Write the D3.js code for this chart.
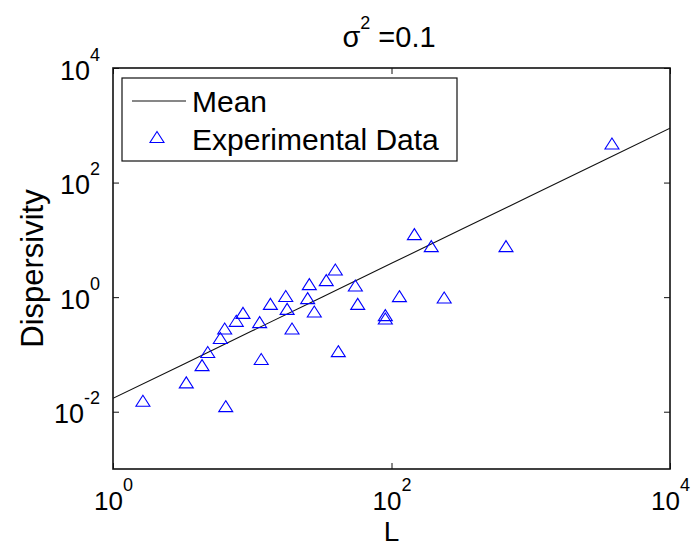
<!DOCTYPE html>
<html>
<head>
<meta charset="utf-8">
<script src="https://cdn.jsdelivr.net/npm/d3@7/dist/d3.min.js"></script>
<style>
  html, body { margin: 0; padding: 0; background: #fff; }
  svg { display: block; }
  text { font-family: "Liberation Sans", Arial, Helvetica, sans-serif; fill: #000; }
</style>
</head>
<body>
<svg id="chart" width="691" height="546"></svg>
<script>
// Field measurements: dispersivity vs. scale length L
const dataL = [1.64, 6.45, 3.36, 4.36, 4.79, 5.90, 6.34, 7.68, 8.58, 11.3, 11.6, 13.5,
               17.4, 17.8, 19.3, 25.0, 25.7, 27.9, 34.0, 39.5, 41.5, 55.0, 57.2, 90.3,
               90.3, 114, 146, 193, 239, 664, 3830];
const dataD = [0.0155, 0.0125, 0.0325, 0.065, 0.110, 0.193, 0.284, 0.386, 0.532, 0.366, 0.083, 0.764,
               1.05, 0.625, 0.284, 0.961, 1.69, 0.563, 1.98, 3.04, 0.114, 1.60, 0.764, 0.485,
               0.425, 1.04, 12.6, 7.77, 0.988, 7.77, 481];

// Mean curve
const meanL = [1, 3.16, 10, 31.6, 100, 316, 1000, 3162, 10000];
const meanD = [0.0171, 0.0663, 0.258, 1.00, 3.89, 15.1, 58.7, 229, 889];

// Axis ticks (decade exponents)
const xTicks = [1, 100, 10000];
const yTicks = [0.01, 1, 100, 10000];

const titleBase = "\u03C3";
const titleSup = "2";
const titleRest = " =0.1";
const xLabel = "L";
const yLabel = "Dispersivity";
const legendLabels = ["Mean", "Experimental Data"];

const svg = d3.select("#chart");
const plot = { left: 113, right: 670, top: 68, bottom: 469 };

const x = d3.scaleLog().domain([1, 1e4]).range([plot.left, plot.right]);
const y = d3.scaleLog().domain([1e-3, 1e4]).range([plot.bottom, plot.top]);

// white axes background
svg.append("rect")
  .attr("x", plot.left).attr("y", plot.top)
  .attr("width", plot.right - plot.left).attr("height", plot.bottom - plot.top)
  .attr("fill", "#fff");

svg.append("clipPath").attr("id", "plotclip")
  .append("rect")
  .attr("x", plot.left).attr("y", plot.top)
  .attr("width", plot.right - plot.left).attr("height", plot.bottom - plot.top);

// mean line
const meanPts = meanL.map((l, i) => [l, meanD[i]]);
svg.append("path")
  .datum(meanPts)
  .attr("clip-path", "url(#plotclip)")
  .attr("fill", "none")
  .attr("stroke", "#111")
  .attr("stroke-width", 1.1)
  .attr("d", d3.line().x(d => x(d[0])).y(d => y(d[1])));

// triangle marker, centred on its bounding box
const tri = "M0,-5.5L7,5.5L-7,5.5Z";

svg.append("g")
  .selectAll("path")
  .data(dataL.map((l, i) => [l, dataD[i]]))
  .join("path")
  .attr("d", tri)
  .attr("transform", d => `translate(${x(d[0])},${y(d[1])})`)
  .attr("fill", "none")
  .attr("stroke", "#0000ff")
  .attr("stroke-width", 1.1);

const expOf = v => Math.round(Math.log10(v));

// bottom axis
const gx = svg.append("g")
  .attr("transform", `translate(0,${plot.bottom})`)
  .call(d3.axisBottom(x).tickValues(xTicks).tickSizeInner(-6).tickSizeOuter(0));
gx.selectAll("text").remove();
gx.selectAll(".tick").append("text")
  .attr("y", 41)
  .attr("text-anchor", "middle")
  .attr("font-size", 26)
  .each(function(d) {
    const t = d3.select(this);
    t.append("tspan").text("10");
    t.append("tspan").attr("dy", -19).attr("font-size", 18).text(expOf(d));
  });

// left axis
const gy = svg.append("g")
  .attr("transform", `translate(${plot.left},0)`)
  .call(d3.axisLeft(y).tickValues(yTicks).tickSizeInner(-6).tickSizeOuter(0));
gy.selectAll("text").remove();
gy.selectAll(".tick").append("text")
  .attr("x", -13)
  .attr("y", 11)
  .attr("text-anchor", "end")
  .attr("font-size", 27)
  .each(function(d) {
    const t = d3.select(this);
    t.append("tspan").text("10");
    t.append("tspan").attr("dy", -19).attr("font-size", 18).text(expOf(d));
  });

// top and right ticks
svg.append("g")
  .attr("transform", `translate(0,${plot.top})`)
  .call(d3.axisTop(x).tickValues(xTicks).tickSizeInner(-6).tickSizeOuter(0).tickFormat(""));
svg.append("g")
  .attr("transform", `translate(${plot.right},0)`)
  .call(d3.axisRight(y).tickValues(yTicks).tickSizeInner(-6).tickSizeOuter(0).tickFormat(""));

svg.selectAll(".domain").remove();
svg.selectAll(".tick line").attr("stroke", "#111").attr("stroke-width", 1);

// axes box
svg.append("rect")
  .attr("x", plot.left).attr("y", plot.top)
  .attr("width", plot.right - plot.left).attr("height", plot.bottom - plot.top)
  .attr("fill", "none")
  .attr("stroke", "#111")
  .attr("stroke-width", 1.6);

// title
const title = svg.append("text")
  .attr("x", 389).attr("y", 46.7)
  .attr("text-anchor", "middle")
  .attr("font-size", 29);
title.append("tspan").text(titleBase);
title.append("tspan").attr("dy", -18).attr("font-size", 18).text(titleSup);
title.append("tspan").attr("dy", 18).text(titleRest);

// axis labels
svg.append("text")
  .attr("x", (plot.left + plot.right) / 2).attr("y", 541)
  .attr("text-anchor", "middle")
  .attr("font-size", 28)
  .text(xLabel);

svg.append("text")
  .attr("transform", `translate(43,${(plot.top + plot.bottom) / 2}) rotate(-90)`)
  .attr("text-anchor", "middle")
  .attr("font-size", 31)
  .text(yLabel);

// legend
const lg = svg.append("g");
lg.append("rect")
  .attr("x", 122).attr("y", 78)
  .attr("width", 335).attr("height", 83)
  .attr("fill", "#fff")
  .attr("stroke", "#111")
  .attr("stroke-width", 1.2);
lg.append("line")
  .attr("x1", 132).attr("x2", 186)
  .attr("y1", 101).attr("y2", 101)
  .attr("stroke", "#111").attr("stroke-width", 1.1);
lg.append("path")
  .attr("d", tri)
  .attr("transform", "translate(157,137)")
  .attr("fill", "none").attr("stroke", "#0000ff").attr("stroke-width", 1.1);
lg.selectAll("text.lab")
  .data(legendLabels)
  .join("text")
  .attr("class", "lab")
  .attr("x", 192)
  .attr("y", (d, i) => [111.5, 150][i])
  .attr("font-size", 30)
  .text(d => d);
</script>
</body>
</html>
